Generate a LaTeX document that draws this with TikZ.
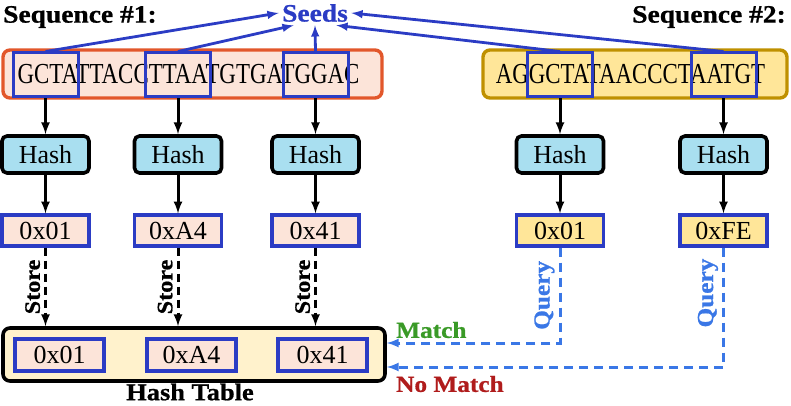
\documentclass[tikz,border=0pt]{standalone}
\usepackage{fontspec}
\setmainfont{Liberation Serif}
\newfontfamily\seqfont[FakeStretch=0.79]{Liberation Serif}
\newfontfamily\lblfont[FakeStretch=1.1, BoldFeatures={FakeBold=0.8}]{Liberation Serif}
\usepackage{tikz}
\usetikzlibrary{arrows}
\usetikzlibrary{calc}

\definecolor{seqred}{HTML}{E2572B}
\definecolor{seqpink}{HTML}{FCE4D9}
\definecolor{seqgold}{HTML}{BF9000}
\definecolor{seqyellow}{HTML}{FFE699}
\definecolor{tableyellow}{HTML}{FFF2CC}
\definecolor{hashcyan}{HTML}{A9DFF0}
\definecolor{seedblue}{HTML}{2B3CC4}
\definecolor{queryblue}{HTML}{3A77E6}
\definecolor{matchgreen}{HTML}{3A9A27}
\definecolor{nomatchred}{HTML}{B01C1C}

\newcommand{\seqsize}{\fontsize{29}{32}\selectfont}
\newcommand{\boxsize}{\fontsize{26}{28}\selectfont}
\newcommand{\lblsize}[1]{\lblfont\bfseries\fontsize{#1}{#1}\selectfont}

\tikzset{
  seqbox/.style={draw, rounded corners=7pt, line width=3.4pt, minimum height=48pt,
    inner sep=0pt, font=\seqfont\seqsize},
  seedbox/.style={draw=seedblue, line width=3pt, minimum width=65pt, minimum height=44pt},
  hashbox/.style={draw, rounded corners=5pt, line width=3.6pt, fill=hashcyan,
    minimum width=87pt, minimum height=37pt, inner sep=0pt, font=\boxsize},
  valbox/.style={draw=seedblue, line width=3.4pt, minimum width=87pt,
    minimum height=31pt, inner sep=0pt, font=\boxsize},
  cellbox/.style={valbox, fill=seqpink, minimum width=89pt, minimum height=32pt},
  flow/.style={-latex, line width=3pt},
  seedarrow/.style={-latex, line width=2.8pt, seedblue},
  storearrow/.style={-latex, line width=3pt, dash pattern=on 8pt off 5pt},
  queryarrow/.style={-latex, line width=3pt, queryblue, dash pattern=on 9pt off 6pt},
  sidelbl/.style={rotate=90, anchor=south, inner sep=4pt}
}

\begin{document}
\begin{tikzpicture}[x=1pt,y=-1pt]
  \useasboundingbox (0,0) rectangle (791,406);

  % titles
  \node[anchor=west, inner sep=0pt, font=\lblsize{25}] (title1) at (3,17) {Sequence \#1:};
  \node[anchor=east, inner sep=0pt, font=\lblsize{25}] (title2) at (786,17) {Sequence \#2:};
  \node[font=\lblsize{25}, text=seedblue] (seeds) at (315,13) {Seeds};

  % the two sequences
  \node[seqbox, draw=seqred, fill=seqpink, minimum width=379pt] (seq1) at (192.5,74) {GCTATTACCTTAATGTGATGGAC\hspace*{8pt}};
  \node[seqbox, draw=seqgold, fill=seqyellow, minimum width=304pt] (seq2) at (635,74) {AGGCTATAACCCTAATGT\hspace*{9pt}};

  % seeds
  \node[seedbox] (s1) at (45.5,75) {};
  \node[seedbox] (s2) at (178,75) {};
  \node[seedbox] (s3) at (315.5,75) {};
  \node[seedbox] (s4) at (560,75) {};
  \node[seedbox] (s5) at (723.5,75) {};

  \draw[seedarrow] (s1.north) -- (seeds.west);
  \draw[seedarrow] (s2.north) -- (seeds.210);
  \draw[seedarrow] (s3.north) -- (seeds.south);
  \draw[seedarrow] (s4.north) -- (seeds.330);
  \draw[seedarrow] (s5.north) -- (seeds.east);

  % hashing
  \node[hashbox] (h1) at (45.5,154.5) {Hash};
  \node[hashbox] (h2) at (178,154.5) {Hash};
  \node[hashbox] (h3) at (315.5,154.5) {Hash};
  \node[hashbox] (h4) at (560,154.5) {Hash};
  \node[hashbox] (h5) at (723.5,154.5) {Hash};

  \node[valbox, fill=seqpink] (v1) at (45.5,230.5) {0x01};
  \node[valbox, fill=seqpink] (v2) at (178,230.5) {0xA4};
  \node[valbox, fill=seqpink] (v3) at (315.5,230.5) {0x41};
  \node[valbox, fill=seqyellow] (v4) at (560,230.5) {0x01};
  \node[valbox, fill=seqyellow] (v5) at (723.5,230.5) {0xFE};

  \foreach \i in {1,...,5} {
    \draw[flow] (s\i.south) -- (h\i.north);
    \draw[flow] (h\i.south) -- (v\i.north);
  }

  % hash table
  \node[draw, rounded corners=7pt, line width=3.6pt, fill=tableyellow,
    minimum width=382pt, minimum height=53pt] (table) at (194,354.5) {};
  \node[cellbox] (c1) at (59.5,355) {0x01};
  \node[cellbox] (c2) at (191.5,355) {0xA4};
  \node[cellbox] (c3) at (322.5,355) {0x41};
  \node[font=\lblsize{24}] (tablelbl) at (190,392) {Hash Table};

  \foreach \i in {1,2,3}
    \draw[storearrow] (v\i.south) -- node[sidelbl, midway, font=\lblsize{22}] {Store} (v\i.south |- table.north);

  % queries
  \draw[queryarrow] (v4.south) |- node[sidelbl, pos=0.25, font=\lblsize{23}, text=queryblue] {Query} ([yshift=11.5pt]table.east);
  \draw[queryarrow] (v5.south) |- node[sidelbl, pos=0.19, font=\lblsize{23}, text=queryblue] {Query} ([yshift=-12.5pt]table.east);

  \node[anchor=west, inner sep=0pt, font=\lblsize{23}, text=matchgreen] (match) at (396,330) {Match};
  \node[anchor=west, inner sep=0pt, font=\lblsize{23}, text=nomatchred] (nomatch) at (396,384) {No Match};
\end{tikzpicture}
\end{document}
